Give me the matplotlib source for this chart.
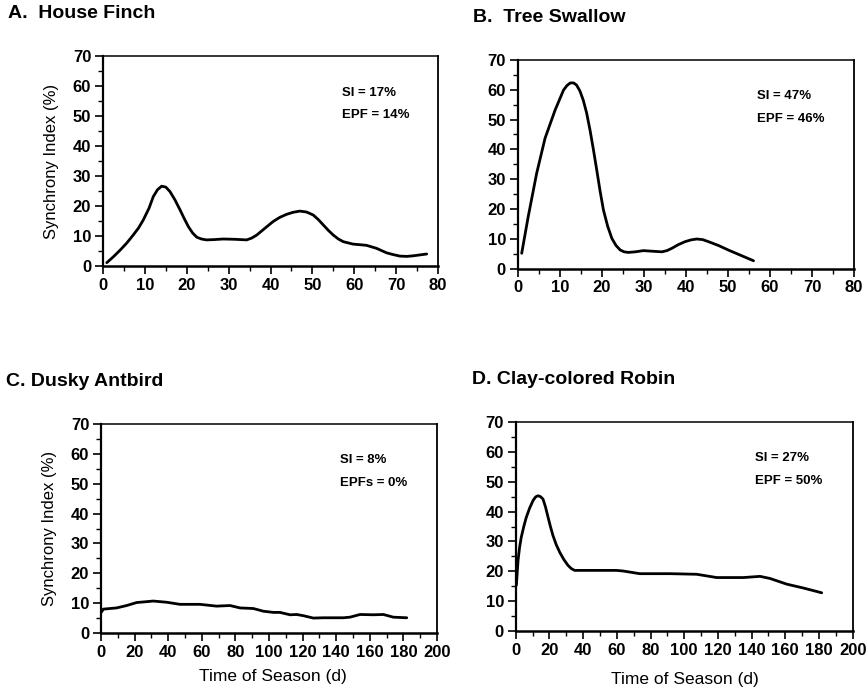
import matplotlib
matplotlib.use("Agg")
import matplotlib.pyplot as plt
from matplotlib.ticker import MultipleLocator

plt.rcParams['font.family'] = ['Liberation Sans', 'DejaVu Sans']

# House Finch
finch_day = [0.9, 2.5, 4.1, 5.7, 7.2, 8.5, 9.6, 11.0, 12.0, 13.0, 14.0, 15.0, 16.0,
             17.2, 18.4, 19.4, 20.4, 21.4, 22.4, 23.5, 24.7, 26.5, 28.7, 31.5,
             34.3, 35.5, 36.7, 38.6, 40.6, 42.2, 43.8, 45.4, 47.0, 48.6, 50.2,
             51.4, 52.6, 53.8, 55.0, 56.2, 57.4, 59.7, 62.9, 65.3, 67.7, 69.3,
             70.9, 72.5, 74.1, 75.7, 77.3]
finch_si = [1.1, 3.1, 5.3, 7.7, 10.3, 12.7, 15.3, 19.3, 23.1, 25.4, 26.6, 26.3, 24.8,
            22.0, 18.7, 15.8, 13.1, 11.0, 9.6, 9.0, 8.7, 8.8, 9.0, 8.9,
            8.7, 9.3, 10.3, 12.5, 14.8, 16.2, 17.2, 17.9, 18.3, 18.0, 17.0,
            15.5, 13.7, 11.9, 10.3, 9.0, 8.1, 7.3, 6.9, 5.9, 4.4, 3.8,
            3.3, 3.2, 3.4, 3.7, 4.0]

# Tree Swallow
swallow_day = [0.95, 2.5, 4.5, 6.5, 8.9, 10.9, 11.7, 12.5, 13.3, 14.0, 14.8, 15.6,
               16.4, 17.2, 18.0, 18.8, 19.6, 20.4, 21.4, 22.4, 23.4, 24.4, 25.3,
               26.3, 28.0, 29.9, 32.0, 34.3, 35.5, 36.7, 38.2, 39.8, 41.2, 42.6,
               44.0, 45.4, 47.8, 50.1, 52.1, 54.1, 56.1]
swallow_si = [5.1, 17.4, 31.9, 43.7, 53.2, 59.9, 61.4, 62.3, 62.3, 61.6, 59.6, 56.5,
              52.2, 46.5, 40.0, 33.1, 26.0, 19.6, 14.2, 10.1, 7.7, 6.2, 5.6,
              5.4, 5.6, 6.0, 5.8, 5.6, 6.0, 6.8, 8.0, 9.0, 9.6, 9.9,
              9.7, 9.0, 7.7, 6.2, 5.0, 3.8, 2.6]

# Dusky Antbird
antbird_day = [0.4, 1.4, 9.3, 15.3, 21.2, 31.1, 39.1, 47.0, 58.9, 68.8, 76.8, 82.7,
               90.7, 96.6, 102.6, 106.5, 112.5, 116.5, 120.4, 126.4, 132.3, 144.2,
               148.2, 154.2, 162.1, 168.1, 174.0, 182.0]
antbird_si = [7.1, 8.0, 8.4, 9.2, 10.2, 10.7, 10.3, 9.6, 9.6, 9.0, 9.2, 8.4,
              8.2, 7.3, 6.9, 6.9, 6.1, 6.2, 5.8, 5.0, 5.1, 5.1,
              5.3, 6.2, 6.1, 6.2, 5.3, 5.1]

# Clay-colored Robin
robin_day = [0.4, 0.9, 1.4, 2.3, 3.3, 4.8, 6.3, 8.3, 10.3, 11.8, 13.2, 14.7, 16.2,
             17.7, 19.2, 20.6, 22.1, 24.0, 26.1, 28.5, 31.0, 33.0, 35.0,
             45.9, 59.7, 63.7, 73.6, 91.6, 107.4, 119.3, 135.1, 145.0, 150.9,
             160.8, 170.7, 181.6]
robin_si = [15.3, 19.5, 23.7, 28.0, 31.4, 35.0, 38.1, 41.2, 43.7, 44.9, 45.3, 45.0, 44.2,
            41.5, 38.1, 35.0, 32.0, 29.0, 26.4, 24.0, 22.0, 20.9, 20.3,
            20.3, 20.3, 20.1, 19.2, 19.2, 19.0, 17.9, 17.9, 18.3, 17.6,
            15.7, 14.4, 12.8]

titles = ["A.  House Finch", "B.  Tree Swallow", "C. Dusky Antbird", "D. Clay-colored Robin"]
si_labels = ["SI = 17%", "SI = 47%", "SI = 8%", "SI = 27%"]
epf_labels = ["EPF = 14%", "EPF = 46%", "EPFs = 0%", "EPF = 50%"]
y_label = "Synchrony Index (%)"
x_label = "Time of Season (d)"

fig = plt.figure(figsize=(8.67, 6.92), dpi=100)

W, H = 867.0, 692.0

def make_axes(left, right, top, bottom):
    return fig.add_axes([left / W, 1 - bottom / H, (right - left) / W, (bottom - top) / H])

axA = make_axes(103, 438, 56, 266)
axB = make_axes(517.7, 854, 60, 268.5)
axC = make_axes(101, 437, 424, 633)
axD = make_axes(515.7, 852.7, 422, 631)

series = [(axA, finch_day, finch_si, 80, 10, 5),
          (axB, swallow_day, swallow_si, 80, 10, 5),
          (axC, antbird_day, antbird_si, 200, 20, 10),
          (axD, robin_day, robin_si, 200, 20, 10)]

for i, (ax, xd, yd, xmax, xmaj, xmin) in enumerate(series):
    ax.plot(xd, yd, color='black', lw=2.0, solid_capstyle='round', solid_joinstyle='round')
    ax.set_xlim(0, xmax)
    ax.set_ylim(0, 70)
    ax.xaxis.set_major_locator(MultipleLocator(xmaj))
    ax.xaxis.set_minor_locator(MultipleLocator(xmin))
    ax.yaxis.set_major_locator(MultipleLocator(10))
    ax.yaxis.set_minor_locator(MultipleLocator(5))
    ax.tick_params(which='major', direction='out', length=6, width=1.2, pad=2.5,
                   labelsize=12, colors='black')
    ax.tick_params(which='minor', direction='out', length=3.5, width=1.0)
    for lab in ax.get_xticklabels() + ax.get_yticklabels():
        lab.set_fontweight('bold')
    ax.spines['left'].set_linewidth(1.6)
    ax.spines['bottom'].set_linewidth(1.8)
    ax.spines['top'].set_linewidth(1.1)
    ax.spines['right'].set_linewidth(1.3)
    tx = xmax * (57.0 / 80.0) if xmax == 80 else 142.0
    ax.text(tx, 57.8, si_labels[i], fontsize=9.5, fontweight='bold', ha='left', va='center')
    ax.text(tx, 50.2, epf_labels[i], fontsize=9.5, fontweight='bold', ha='left', va='center')

for ax, xc in [(axA, -0.155), (axC, -0.152)]:
    ax.set_ylabel(y_label, fontsize=12, va='center')
    ax.yaxis.set_label_coords(xc, 0.5)
for ax, xc, yc in [(axC, 0.512, -0.21), (axD, 0.502, -0.234)]:
    ax.set_xlabel(x_label, fontsize=12.5, va='center')
    ax.xaxis.set_label_coords(xc, yc)

title_pos = [(8, 14), (473, 18), (6, 382), (472, 380)]
for t, (px, py) in zip(titles, title_pos):
    fig.text(px / W, 1 - py / H, t, fontsize=14, fontweight='bold', ha='left', va='center')

fig.savefig("out.png", dpi=100)
